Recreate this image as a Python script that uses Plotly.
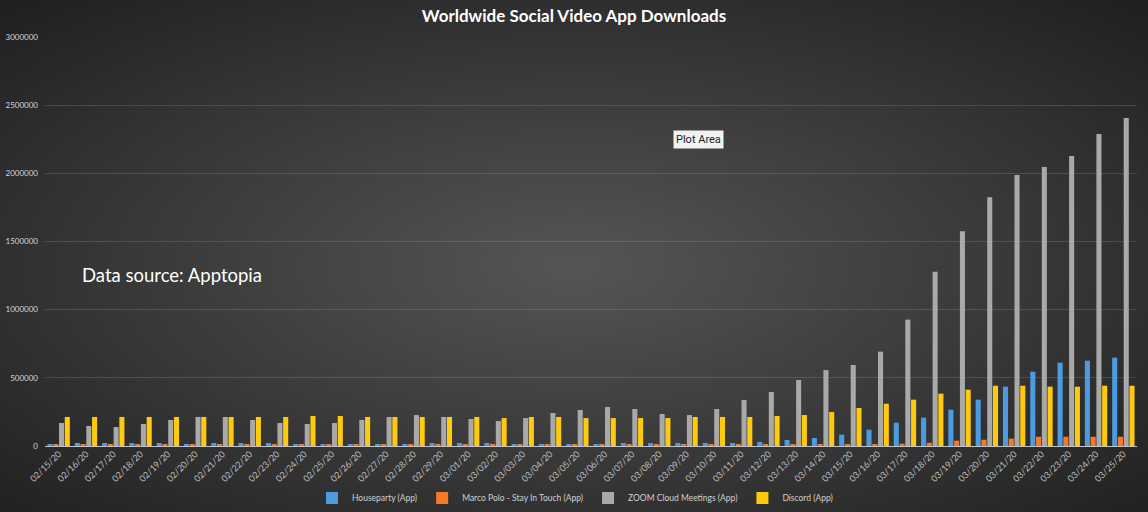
import base64
import plotly.graph_objects as go

# Daily downloads, 15 Feb - 25 Mar 2020
dates = [
    "02/15/20", "02/16/20", "02/17/20", "02/18/20", "02/19/20", "02/20/20", "02/21/20",
    "02/22/20", "02/23/20", "02/24/20", "02/25/20", "02/26/20", "02/27/20", "02/28/20",
    "02/29/20", "03/01/20", "03/02/20", "03/03/20", "03/04/20", "03/05/20", "03/06/20",
    "03/07/20", "03/08/20", "03/09/20", "03/10/20", "03/11/20", "03/12/20", "03/13/20",
    "03/14/20", "03/15/20", "03/16/20", "03/17/20", "03/18/20", "03/19/20", "03/20/20",
    "03/21/20", "03/22/20", "03/23/20", "03/24/20", "03/25/20",
]

houseparty = [
    15000, 22000, 22000, 22000, 22000, 15000, 22000, 22000, 22000, 15000,
    15000, 15000, 15000, 15000, 22000, 22000, 22000, 15000, 15000, 15000,
    15000, 22000, 22000, 22000, 22000, 22000, 30000, 44000, 59000, 83000,
    120000, 171000, 208000, 266000, 340000, 435000, 545000, 611000, 626000, 648000,
]

marco_polo = [
    8000, 8000, 8000, 8000, 8000, 8000, 8000, 8000, 8000, 8000,
    8000, 8000, 8000, 8000, 8000, 8000, 8000, 8000, 8000, 8000,
    8000, 8000, 8000, 8000, 8000, 8000, 9000, 9000, 9000, 10000,
    10000, 17000, 24000, 39000, 46000, 54000, 68000, 68000, 68000, 68000,
]

zoom_meetings = [
    169000, 147000, 139000, 161000, 191000, 213000, 213000, 191000, 169000, 161000,
    169000, 191000, 213000, 227000, 213000, 198000, 183000, 205000, 242000, 264000,
    286000, 271000, 235000, 227000, 271000, 337000, 396000, 484000, 557000, 594000,
    692000, 927000, 1279000, 1576000, 1825000, 1988000, 2046000, 2127000, 2288000, 2406000,
]

discord = [
    213000, 213000, 213000, 213000, 213000, 213000, 213000, 213000, 213000, 220000,
    220000, 213000, 213000, 213000, 213000, 213000, 205000, 213000, 213000, 205000,
    205000, 205000, 205000, 213000, 213000, 213000, 220000, 227000, 249000, 279000,
    310000, 340000, 384000, 413000, 442000, 442000, 435000, 435000, 442000, 442000,
]

series_names = [
    "Houseparty (App)",
    "Marco Polo - Stay In Touch (App)",
    "ZOOM Cloud Meetings (App)",
    "Discord (App)",
]
series_values = [houseparty, marco_polo, zoom_meetings, discord]
series_colors = ["#4c9be0", "#f47a28", "#a9a9a9", "#ffc90e"]

W, H = 1148, 512
L, R, T, B = 45, 11, 37, 66
PW, PH = W - L - R, H - T - B

fig = go.Figure()
for name, vals, color in zip(series_names, series_values, series_colors):
    fig.add_trace(go.Bar(
        x=dates, y=vals, name=name,
        marker=dict(color=color, line=dict(width=0)),
    ))

# dark radial background behind the whole chart
svg = (
    f'<svg xmlns="http://www.w3.org/2000/svg" width="{W}" height="{H}">'
    '<defs><radialGradient id="g" cx="0.5" cy="0.52" r="0.72">'
    '<stop offset="0" stop-color="#555555"/>'
    '<stop offset="1" stop-color="#1f1f1f"/>'
    '</radialGradient></defs>'
    f'<rect width="{W}" height="{H}" fill="url(#g)"/></svg>'
)
bg_uri = "data:image/svg+xml;base64," + base64.b64encode(svg.encode()).decode()

fig.add_layout_image(dict(
    source=bg_uri, xref="paper", yref="paper",
    x=-L / PW, y=1 + T / PH, sizex=W / PW, sizey=H / PH,
    xanchor="left", yanchor="top", sizing="stretch", layer="below",
))

fig.update_layout(
    width=W, height=H,
    margin=dict(l=L, r=R, t=T, b=B, pad=0, autoexpand=False),
    paper_bgcolor="#333333",
    plot_bgcolor="rgba(0,0,0,0)",
    font=dict(family="Lato, 'Open Sans', sans-serif", color="#d0d0d0", size=9),
    title=dict(
        text="<b>Worldwide Social Video App Downloads</b>",
        x=0.5, xref="container", xanchor="center",
        y=1 - 16 / H, yref="container", yanchor="middle",
        font=dict(size=17, color="#ffffff"),
    ),
    barmode="group",
    bargap=0.155,
    bargroupgap=0.12,
    showlegend=True,
    legend=dict(
        orientation="h", xref="container", yref="container",
        x=575 / W, xanchor="center", y=(H - 498) / H, yanchor="middle",
        font=dict(size=8.5, color="#d0d0d0"), bgcolor="rgba(0,0,0,0)",
        itemwidth=30, traceorder="normal",
    ),
    xaxis=dict(
        type="category", tickangle=-45, showgrid=False, showline=False,
        ticks="", tickfont=dict(size=9, color="#bdbdbd"), automargin=False,
    ),
    yaxis=dict(
        range=[0, 3000000], dtick=500000, tickformat="d",
        showgrid=True, gridcolor="rgba(255,255,255,0.13)", gridwidth=1,
        zeroline=True, zerolinecolor="#c4c4c4", zerolinewidth=1,
        showline=False, ticks="", tickfont=dict(size=8, color="#d6d6d6"),
        ticklabelstandoff=6, automargin=False,
    ),
    annotations=[
        dict(
            text="Data source: Apptopia", xref="paper", yref="paper",
            x=(80 - L) / PW, y=(446 - 275) / PH, xanchor="left", yanchor="middle",
            showarrow=False, font=dict(size=18.5, color="#ffffff"),
        ),
        dict(
            text="Plot Area", xref="paper", yref="paper",
            x=(698 - L) / PW, y=(446 - 139) / PH, xanchor="center", yanchor="middle",
            showarrow=False, font=dict(size=11, color="#222222", family="Roboto, sans-serif"),
            bgcolor="#f2f2f2", borderpad=2,
        ),
    ],
)

fig.write_html("out.html")
